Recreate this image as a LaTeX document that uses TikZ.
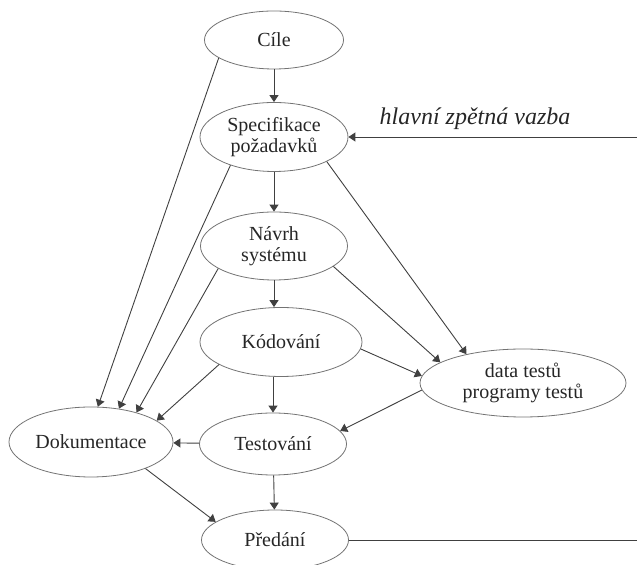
\documentclass[tikz,border=0pt]{standalone}
\usepackage{fontspec}
\setmainfont{Liberation Serif}
\usetikzlibrary{arrows.meta, shapes.geometric}

\begin{document}
\begin{tikzpicture}[x=0.5pt, y=-0.5pt, line join=round,
        stage/.style={ellipse, draw=black!55, inner sep=0pt, align=center,
                      font=\fontsize{10}{10.5}\selectfont, text=black!85},
        conn/.style={draw=black!75, line width=0.45pt,
                     -{Triangle[length=3.5pt, width=4.5pt]}}]
        \useasboundingbox (0,0) rectangle (637,565);
        \clip (0,0) rectangle (637,565);
        % stages of the process
        \node[stage, minimum width=69.5pt, minimum height=29pt] (cile) at (274,40) {Cíle};
        \node[stage, minimum width=74pt, minimum height=34.5pt] (spec) at (274,137) {Specifikace\\požadavků};
        \node[stage, minimum width=73.5pt, minimum height=34pt] (navrh) at (274,246) {Návrh\\systému};
        \node[stage, minimum width=81pt, minimum height=34.5pt] (kod) at (281,342) {Kódování};
        \node[stage, minimum width=103pt, minimum height=34pt] (data) at (523,383) {data testů\\programy testů};
        \node[stage, minimum width=82pt, minimum height=35pt] (dok) at (91,442) {Dokumentace};
        \node[stage, minimum width=73.5pt, minimum height=31pt] (test) at (273,444) {Testování};
        \node[stage, minimum width=73.5pt, minimum height=30pt] (pred) at (275,540) {Předání};
        \node[font=\fontsize{12}{14}\selectfont\itshape, text=black!85] (feedlbl) at (475,119) {hlavní zpětná vazba};
        \coordinate (feedin) at (637,137);
        \coordinate (handoff) at (637,540);
        % connectors
        \foreach \a/\b in {cile/spec, spec/navrh, cile.198/dok.79, spec.213/dok.50,
                           navrh.202/dok.33, kod.200/dok.18, spec.335/data.153,
                           navrh.341/data.166, kod.355/data.176, data.184/test.11,
                           test/dok, dok.334/pred.163, test/pred} {
            \draw[conn] (\a) -- (\b);
        }
        \draw[conn] (navrh) -- (navrh |- kod.north);
        \draw[conn] (test |- kod.south) -- (test);
        % main feedback loop
        \draw[conn] (feedin) -- (spec.east);
        \draw[draw=black!75, line width=0.45pt] (pred.east) -- (handoff);
    \end{tikzpicture}
\end{document}
